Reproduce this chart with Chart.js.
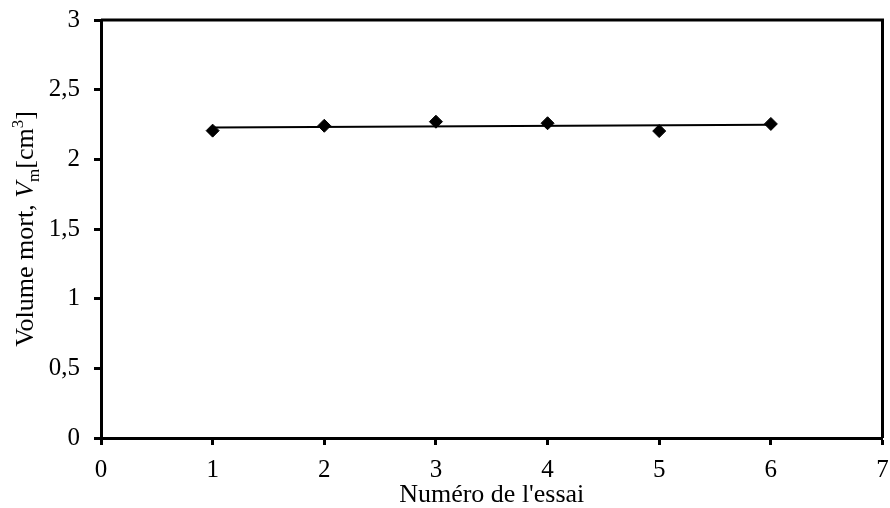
<!DOCTYPE html>
<html>
<head>
<meta charset="utf-8">
<script src="https://cdn.jsdelivr.net/npm/chart.js@4/dist/chart.umd.min.js"></script>
<style>
  html, body { margin: 0; padding: 0; background: #fff; }
  #wrap { width: 890px; height: 508px; }
</style>
</head>
<body>
<div id="wrap"><canvas id="myChart"></canvas></div>
<script>
// values
const essais = [1, 2, 3, 4, 5, 6];
const volumeMort = [2.206, 2.241, 2.270, 2.259, 2.203, 2.254];
// linear trend line, ends read at x = 1 and x = 6
const trendX = [1, 6];
const trendY = [2.229, 2.248];
const xTicks = [0, 1, 2, 3, 4, 5, 6, 7];
const yTicks = [0, 0.5, 1, 1.5, 2, 2.5, 3];

const serif = "'Liberation Serif', 'Times New Roman', serif";

// top and right edges of the frame + the y title with italic V, subscript m, superscript 3
const framePlugin = {
  id: "frame",
  afterDraw(chart) {
    const { ctx, chartArea: a } = chart;
    ctx.save();
    ctx.strokeStyle = "#000";
    ctx.lineWidth = 3;
    ctx.beginPath();
    ctx.moveTo(a.left, a.top);
    ctx.lineTo(a.right, a.top);
    ctx.lineTo(a.right, a.bottom);
    ctx.stroke();

    // rotated y title
    const parts = [
      { t: "Volume mort, ", f: "26px " + serif, dy: 0 },
      { t: "V", f: "italic 26px " + serif, dy: 0 },
      { t: "m", f: "17px " + serif, dy: 6 },
      { t: "[cm", f: "26px " + serif, dy: 0 },
      { t: "3", f: "17px " + serif, dy: -10 },
      { t: "]", f: "26px " + serif, dy: 0 }
    ];
    let total = 0;
    parts.forEach(p => { ctx.font = p.f; p.w = ctx.measureText(p.t).width; total += p.w; });
    ctx.translate(33, 229);
    ctx.rotate(-Math.PI / 2);
    ctx.fillStyle = "#000";
    ctx.textBaseline = "alphabetic";
    ctx.textAlign = "left";
    let x = -total / 2;
    parts.forEach(p => { ctx.font = p.f; ctx.fillText(p.t, x, p.dy); x += p.w; });
    ctx.restore();
  }
};

const ctx = document.getElementById("myChart").getContext("2d");
const chart = new Chart(ctx, {
  type: "scatter",
  data: {
    datasets: [
      {
        label: "Volume mort",
        data: essais.map((e, i) => ({ x: e, y: volumeMort[i] })),
        pointStyle: "rectRot",
        pointRadius: 6.5,
        backgroundColor: "#000",
        borderColor: "#000",
        borderWidth: 1,
        showLine: false,
        order: 1
      },
      {
        label: "Tendance",
        data: trendX.map((e, i) => ({ x: e, y: trendY[i] })),
        showLine: true,
        borderColor: "#000",
        borderWidth: 2,
        pointRadius: 0,
        order: 2
      }
    ]
  },
  options: {
    responsive: true,
    maintainAspectRatio: false,
    animation: false,
    layout: { padding: { left: 0, right: 6, top: 20, bottom: 0 } },
    plugins: { legend: { display: false }, tooltip: { enabled: false } },
    scales: {
      x: {
        type: "linear",
        min: 0,
        max: 7,
        afterBuildTicks: s => { s.ticks = xTicks.map(v => ({ value: v })); },
        afterFit: s => { s.height = 70; s.paddingLeft = 0; s.paddingRight = 0; },
        grid: { display: true, drawOnChartArea: false, drawTicks: true, tickLength: 7, tickWidth: 3, tickColor: "#000" },
        border: { display: true, color: "#000", width: 3 },
        ticks: { color: "#000", font: { family: serif, size: 25 }, padding: 10, maxRotation: 0 },
        title: { display: true, text: "Numéro de l'essai", color: "#000", font: { family: serif, size: 26, lineHeight: 1 }, padding: 0 }
      },
      y: {
        type: "linear",
        min: 0,
        max: 3,
        afterBuildTicks: s => { s.ticks = yTicks.map(v => ({ value: v })); },
        afterFit: s => { s.width = 101; s.paddingTop = 0; s.paddingBottom = 0; },
        grid: { display: true, drawOnChartArea: false, drawTicks: true, tickLength: 7, tickWidth: 3, tickColor: "#000" },
        border: { display: true, color: "#000", width: 3 },
        ticks: {
          color: "#000",
          font: { family: serif, size: 25 },
          padding: 14,
          callback: v => String(v).replace(".", ",")
        }
      }
    }
  },
  plugins: [framePlugin]
});
</script>
</body>
</html>
